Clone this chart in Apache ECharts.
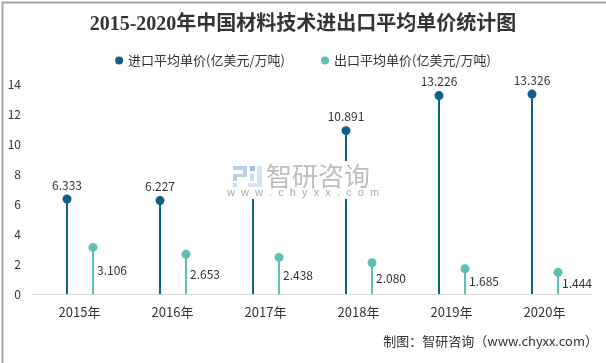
<!DOCTYPE html>
<html><head><meta charset="utf-8">
<script src="https://cdn.jsdelivr.net/npm/echarts@6/dist/echarts.min.js"></script>
<style>html,body{margin:0;padding:0;background:#fff}#c{width:606px;height:363px}</style>
</head><body><div id="c"></div>
<script>
var categories = ['2015年','2016年','2017年','2018年','2019年','2020年'];
var importPrice = [6.333, 6.227, 6.9, 10.891, 13.226, 13.326];
var exportPrice = [3.106, 2.653, 2.438, 2.080, 1.685, 1.444];
var importName = '进口平均单价(亿美元/万吨)';
var exportName = '出口平均单价(亿美元/万吨)';
var yTicks = {min: 0, max: 14, interval: 2};

var C1 = '#0b6187', C2 = '#5cc0b5';
var FONT = '"Microsoft YaHei","Noto Sans CJK SC",sans-serif';
var chart = echarts.init(document.getElementById('c'), null, {renderer: 'canvas'});

function lollipop(color, dx, labelMode) {
  return function (params, api) {
    var v = api.value(1);
    var top = api.coord([api.value(0), v]);
    var base = api.coord([api.value(0), 0]);
    var x = Math.round(top[0] + dx);
    var txt = v.toFixed(3);
    var label = labelMode === 'top'
      ? {type: 'text', style: {x: x, y: top[1] - 8, text: txt, fill: '#333', fontSize: 12,
          fontFamily: FONT, align: 'center', verticalAlign: 'bottom'}}
      : {type: 'text', style: {x: x + 4, y: (top[1] + base[1]) / 2, text: txt, fill: '#333', fontSize: 12,
          fontFamily: FONT, align: 'left', verticalAlign: 'middle'}};
    return {type: 'group', children: [
      {type: 'line', shape: {x1: x, y1: base[1], x2: x, y2: top[1]}, style: {stroke: color, lineWidth: 2}},
      {type: 'circle', shape: {cx: x, cy: top[1], r: 4.5}, style: {fill: color}},
      label
    ]};
  };
}
function pairs(arr){ return arr.map(function(v, i){ return [i, v]; }); }

chart.setOption({
  animation: false,
  title: {text: '2015-2020年中国材料技术进出口平均单价统计图', left: 'center', top: 10,
    textStyle: {fontFamily: '"Liberation Serif","Noto Sans CJK SC",serif', fontWeight: 'bold', fontSize: 20, color: '#333'}},
  legend: {top: 49, left: 'center', itemGap: 36, itemWidth: 8, itemHeight: 8, icon: 'circle',
    data: [importName, exportName],
    textStyle: {fontFamily: FONT, fontSize: 13, color: '#333'}},
  grid: {left: 33, right: 15, top: 84, bottom: 69},
  xAxis: {type: 'category', data: categories,
    axisLine: {lineStyle: {color: '#d9d9d9'}}, axisTick: {show: false},
    axisLabel: {fontFamily: FONT, fontSize: 13, color: '#333', margin: 12}},
  yAxis: {type: 'value', min: yTicks.min, max: yTicks.max, interval: yTicks.interval,
    axisLine: {show: false}, axisTick: {show: false}, splitLine: {show: false},
    axisLabel: {fontFamily: FONT, fontSize: 12, color: '#333', margin: 12}},
  series: [
    {name: importName, type: 'custom', data: pairs(importPrice), itemStyle: {color: C1},
      renderItem: lollipop(C1, -13, 'top'), z: 3, clip: false},
    {name: exportName, type: 'custom', data: pairs(exportPrice), itemStyle: {color: C2},
      renderItem: lollipop(C2, 13, 'right'), z: 3, clip: false}
  ],
  graphic: [
    {type: 'rect', left: 0, top: 0, z: 100, silent: true,
      shape: {x: 0.5, y: 0.5, width: 605, height: 362},
      style: {fill: null, stroke: '#a6a6a6', lineWidth: 2}},
    {type: 'rect', z: 50, silent: true, shape: {x: 228, y: 161, width: 153, height: 38}, style: {fill: '#fff'}},
    {type: 'rect', z: 51, silent: true, shape: {x: 233, y: 166, width: 14, height: 4}, style: {fill: '#b9cfe6'}},
    {type: 'rect', z: 51, silent: true, shape: {x: 243, y: 166, width: 4, height: 11}, style: {fill: '#b9cfe6'}},
    {type: 'rect', z: 51, silent: true, shape: {x: 233, y: 174, width: 12, height: 3}, style: {fill: '#b9cfe6'}},
    {type: 'rect', z: 51, silent: true, shape: {x: 233, y: 174, width: 4, height: 7}, style: {fill: '#b9cfe6'}},
    {type: 'rect', z: 51, silent: true, shape: {x: 233, y: 183, width: 4, height: 4}, style: {fill: '#c9dcef'}},
    {type: 'rect', z: 51, silent: true, shape: {x: 250, y: 166, width: 5, height: 5}, style: {fill: '#9ebfdf'}},
    {type: 'rect', z: 51, silent: true, shape: {x: 257, y: 166, width: 5, height: 21}, style: {fill: '#d4e5f3'}},
    {type: 'rect', z: 51, silent: true, shape: {x: 248, y: 183, width: 14, height: 4}, style: {fill: '#d4e5f3'}},
    {type: 'rect', z: 51, silent: true, shape: {x: 250, y: 174, width: 4, height: 7}, style: {fill: '#c9dcef'}},
    {type: 'text', z: 52, silent: true, x: 266, y: 176, style: {text: '智研咨询', fill: '#bdbdbd', fontSize: 26,
      fontFamily: '"Noto Sans CJK SC",sans-serif', verticalAlign: 'middle', align: 'left'}},
    {type: 'text', z: 52, silent: true, x: 303, y: 193, style: {text: 'w  w  w  .  c  h  y  x  x  .  c  o  m', fill: '#a9a9a9', fontSize: 11,
      fontFamily: 'sans-serif', verticalAlign: 'middle', align: 'center'}},
    {type: 'text', right: 8, top: 335, z: 60,
      style: {text: '制图：智研咨询（www.chyxx.com）', fill: '#333', fontSize: 13,
        fontFamily: '"Noto Sans CJK SC",sans-serif'}}
  ]
});
</script></body></html>
